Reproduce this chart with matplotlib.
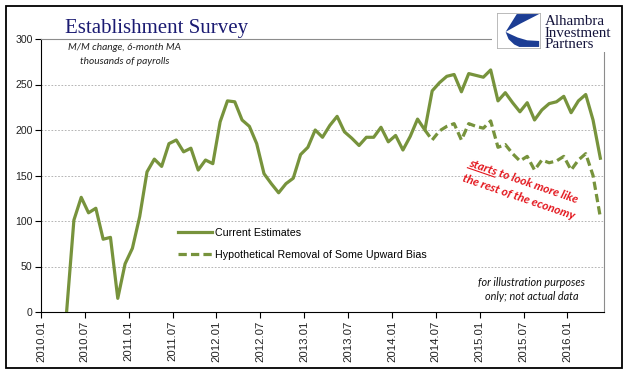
import numpy as np
import matplotlib
matplotlib.use("Agg")
import matplotlib.pyplot as plt
from matplotlib.patches import Rectangle, Polygon
from matplotlib.lines import Line2D

# data: 6-month MA of monthly payroll change (thousands), month index 0 = 2010.01
current_start = 3
current = [0, 101, 126, 109, 114, 80, 82, 15, 53, 70, 105, 154, 168, 160, 185, 189,
           176, 180, 156, 167, 163, 209, 232, 231, 211, 204, 185, 152, 141, 131, 141,
           147, 173, 181, 200, 192, 205, 215, 198, 191, 183, 192, 192, 203, 187, 194,
           178, 193, 212, 200, 243, 252, 259, 261, 242, 262, 260, 258, 266, 232, 241,
           230, 220, 230, 211, 222, 229, 231, 237, 219, 232, 239, 211, 169]
hypo_start = 52
hypo = [200, 189, 199, 204, 207, 189, 207, 204, 202, 210, 181, 184, 174, 166, 171,
        156, 167, 164, 166, 171, 156, 167, 174, 150, 104]

tick_pos = list(range(0, 73, 6))
tick_labels = ["2010.01", "2010.07", "2011.01", "2011.07", "2012.01", "2012.07",
               "2013.01", "2013.07", "2014.01", "2014.07", "2015.01", "2015.07",
               "2016.01"]

GREEN = "#77933c"
RED = "#e3151c"
NAVY = "#1b1b72"

W, H = 641, 375
fig = plt.figure(figsize=(W / 100, H / 100), dpi=100)


def fx(x):
    return x / W


def fy(y):
    return 1 - y / H


ax = fig.add_axes([fx(41), fy(312), fx(604) - fx(41), fy(39) - fy(312)])

x_cur = np.arange(len(current)) + current_start + 0.5
x_hyp = np.arange(len(hypo)) + hypo_start + 0.5
ax.plot(x_cur, current, color=GREEN, lw=2.3, solid_joinstyle="round",
        label="Current Estimates", zorder=3)
ax.plot(x_hyp, hypo, color=GREEN, lw=2.3, linestyle=(0, (2.6, 1.3)),
        dash_joinstyle="round", label="Hypothetical Removal of Some Upward Bias", zorder=3)

ax.set_xlim(0, 77)
ax.set_ylim(0, 300)
ax.set_yticks(range(0, 301, 50))
ax.set_xticks(tick_pos)
ax.set_xticklabels(tick_labels, rotation=90, fontsize=8.2, family="Liberation Sans",
                   color="#222222")
for lab in ax.get_yticklabels():
    lab.set_fontsize(7.6)
    lab.set_family("Liberation Sans")
    lab.set_color("#222222")
ax.tick_params(axis="both", direction="out", length=4, width=0.8, pad=2)

for v in range(50, 300, 50):
    ax.axhline(v, color="#a8a8a8", lw=0.6, linestyle=(0, (2, 2)), zorder=1)

ax.spines["left"].set_color("black")
ax.spines["bottom"].set_color("black")
ax.spines["top"].set_color("#8c8c8c")
ax.spines["right"].set_color("#8c8c8c")
ax.spines["top"].set_linewidth(0.8)
ax.spines["right"].set_linewidth(0.8)

leg = ax.legend(loc="center left", bbox_to_anchor=(fx(178), fy(244)),
                bbox_transform=fig.transFigure, frameon=False, borderpad=0,
                borderaxespad=0, handlelength=3.2, handletextpad=0.3,
                labelspacing=1.12, prop={"family": "Liberation Sans", "size": 7.7})

# titles and notes
fig.text(fx(65), fy(28), "Establishment Survey", family="Liberation Serif", size=15,
         color=NAVY, ha="left", va="center")
fig.text(fx(125), fy(48), "M/M change, 6-month MA", family="Lato", style="italic",
         size=7.3, color="#222222", ha="center", va="center")
fig.text(fx(125), fy(61), "thousands of payrolls", family="Lato", style="italic",
         size=7.3, color="#222222", ha="center", va="center")
fig.text(fx(531), fy(282), "for illustration purposes", family="Lato", style="italic",
         size=7.8, color="#111111", ha="center", va="center")
fig.text(fx(532), fy(297), "only; not actual data", family="Lato", style="italic",
         size=7.8, color="#111111", ha="center", va="center")

# red annotation, rotated, with "starts" underlined
ann = dict(family="Lato", weight="bold", style="italic", size=8.6, color=RED,
           rotation=-19, rotation_mode="anchor", ha="left", va="baseline")
a1 = (468, 166)
a2 = (462, 181)
fig.text(fx(a1[0]), fy(a1[1]), "starts to look more like", **ann)
fig.text(fx(a2[0]), fy(a2[1]), "the rest of the economy", **ann)
fig.canvas.draw()
r = fig.canvas.get_renderer()
tmp = fig.text(0, 0, "starts", family="Lato", weight="bold", style="italic", size=8.6)
w = tmp.get_window_extent(r).width
tmp.remove()
th = np.deg2rad(-19)
d = np.array([np.cos(th), np.sin(th)])
n = np.array([np.sin(th), -np.cos(th)])
p0 = np.array([a1[0], H - a1[1]]) + 1.8 * n
p1 = p0 + w * d
fig.add_artist(Line2D([p0[0] / W, p1[0] / W], [p0[1] / H, p1[1] / H],
                      transform=fig.transFigure, color=RED, lw=0.8))

# logo corner (covers the top-right of the plot frame)
fig.add_artist(Rectangle((fx(492), fy(52)), fx(622) - fx(492), fy(7) - fy(52),
                         transform=fig.transFigure, facecolor="white",
                         edgecolor="none", zorder=5))
lax = fig.add_axes([fx(497), fy(48), fx(540) - fx(497), fy(13) - fy(48)], zorder=6)
lax.set_xlim(0, 1)
lax.set_ylim(0, 1)
lax.set_xticks([])
lax.set_yticks([])
for s in lax.spines.values():
    s.set_color("#b0b0b0")
    s.set_linewidth(0.6)
BLUE = "#1c3d94"
lax.add_patch(Polygon([(0.46, 0.97), (0.98, 0.97), (0.55, 0.7), (0.2, 0.46)],
                      closed=True, facecolor=BLUE, edgecolor="none"))
lax.add_patch(Polygon([(0.2, 0.46), (0.27, 0.25), (0.4, 0.1), (0.52, 0.03), (0.98, 0.03),
                       (0.98, 0.2), (0.7, 0.22), (0.48, 0.3), (0.3, 0.4)],
                      closed=True, facecolor=BLUE, edgecolor="none"))
for i, word in enumerate(["Alhambra", "Investment", "Partners"]):
    fig.text(fx(545), fy(25 + 11.7 * i), word, family="Liberation Serif", size=10.8,
             color="#14143c", ha="left", va="baseline", zorder=7)

# outer frame
fig.add_artist(Rectangle((fx(6), fy(368)), fx(622) - fx(6), fy(6) - fy(368),
                         transform=fig.transFigure, facecolor="none",
                         edgecolor="black", lw=1.3, zorder=8))

fig.savefig("out.png", dpi=100)
